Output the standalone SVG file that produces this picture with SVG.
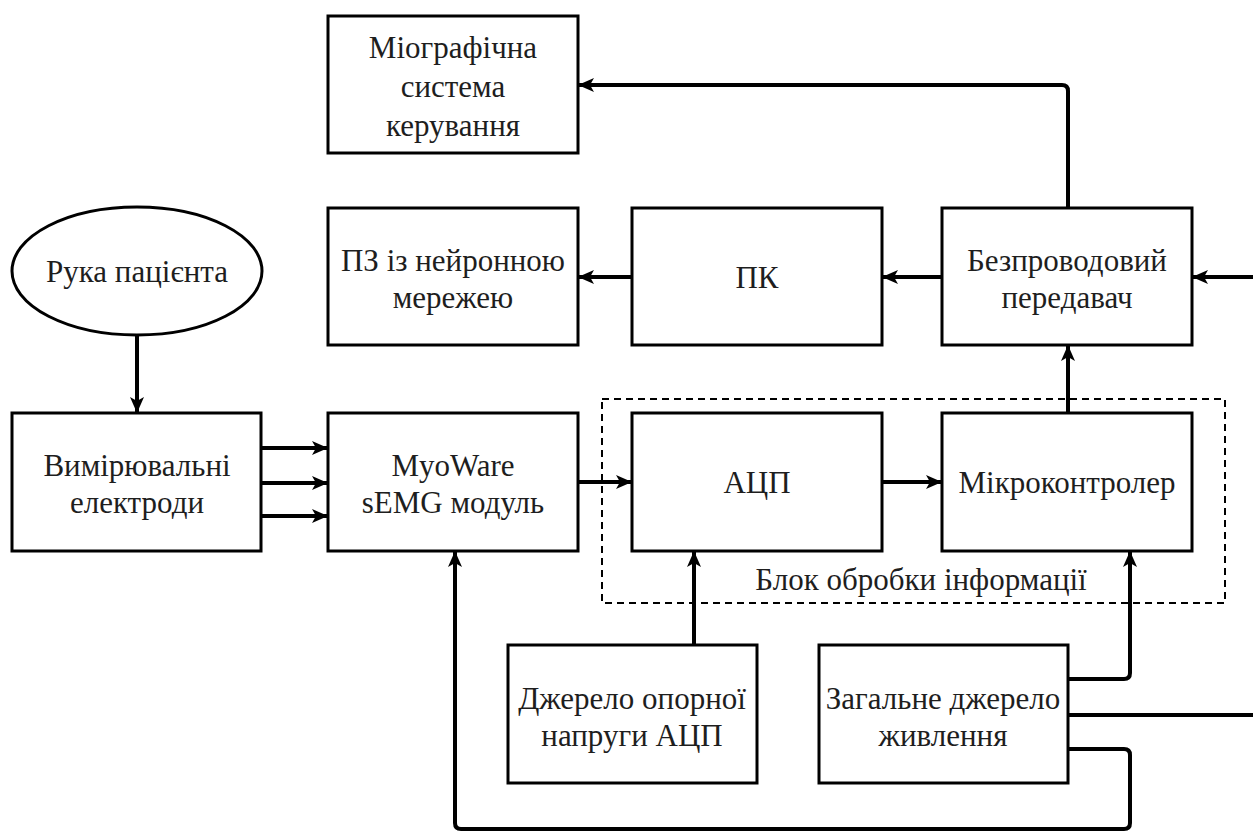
<svg xmlns="http://www.w3.org/2000/svg" width="1253" height="832" viewBox="0 0 1253 832">
  <style>
    .box { fill: #ffffff; stroke: #000000; stroke-width: 3; }
    .lbl { font-family: "Liberation Serif", "Times New Roman", serif; font-size: 31px; fill: #1e1e1e; text-anchor: middle; dominant-baseline: central; }
    .wire { fill: none; stroke: #000000; stroke-width: 4; stroke-linejoin: round; }
    .group { fill: none; stroke: #000000; stroke-width: 2; stroke-dasharray: 7 5; }
  </style>
  <defs>
    <marker id="arr" markerUnits="userSpaceOnUse" markerWidth="16" markerHeight="14" refX="15" refY="7" orient="auto">
      <path d="M0,0 L16,7 L0,14 L4,7 Z" fill="#000000"/>
    </marker>
  </defs>

  <rect width="1253" height="832" fill="#ffffff"/>

  <!-- processing block boundary -->
  <g id="processing-block">
    <rect class="group" x="602" y="399" width="623" height="204"/>
    <text class="lbl" x="921" y="579">Блок обробки інформації</text>
  </g>

  <g id="myo-control">
    <rect class="box" x="328" y="16" width="250" height="137"/>
    <text class="lbl" x="453" y="47">Міографічна</text>
    <text class="lbl" x="453" y="86">система</text>
    <text class="lbl" x="453" y="125">керування</text>
  </g>

  <g id="nn-software">
    <rect class="box" x="328" y="208" width="250" height="137"/>
    <text class="lbl" x="453" y="260">ПЗ із нейронною</text>
    <text class="lbl" x="453" y="297">мережею</text>
  </g>

  <g id="pc">
    <rect class="box" x="632" y="208" width="250" height="137"/>
    <text class="lbl" x="757" y="277">ПК</text>
  </g>

  <g id="transmitter">
    <rect class="box" x="942" y="208" width="250" height="137"/>
    <text class="lbl" x="1067" y="260">Безпроводовий</text>
    <text class="lbl" x="1067" y="297">передавач</text>
  </g>

  <g id="hand">
    <ellipse class="box" cx="137" cy="271" rx="125" ry="64"/>
    <text class="lbl" x="137" y="271">Рука пацієнта</text>
  </g>

  <g id="electrodes">
    <rect class="box" x="12" y="413" width="249" height="138"/>
    <text class="lbl" x="137" y="465">Вимірювальні</text>
    <text class="lbl" x="137" y="502">електроди</text>
  </g>

  <g id="myoware">
    <rect class="box" x="328" y="413" width="250" height="138"/>
    <text class="lbl" x="453" y="465">MyoWare</text>
    <text class="lbl" x="453" y="502">sEMG модуль</text>
  </g>

  <g id="adc">
    <rect class="box" x="632" y="413" width="250" height="138"/>
    <text class="lbl" x="757" y="482">АЦП</text>
  </g>

  <g id="mcu">
    <rect class="box" x="942" y="413" width="250" height="138"/>
    <text class="lbl" x="1067" y="482">Мікроконтролер</text>
  </g>

  <g id="adc-reference">
    <rect class="box" x="508" y="645" width="249" height="138"/>
    <text class="lbl" x="632" y="698">Джерело опорної</text>
    <text class="lbl" x="632" y="735">напруги АЦП</text>
  </g>

  <g id="power-supply">
    <rect class="box" x="819" y="645" width="249" height="138"/>
    <text class="lbl" x="943" y="698">Загальне джерело</text>
    <text class="lbl" x="943" y="735">живлення</text>
  </g>

  <g id="connectors">
    <path class="wire" d="M1068,208 V91 Q1068,85 1062,85 H579" marker-end="url(#arr)"/>
    <path class="wire" d="M1253,277 H1193" marker-end="url(#arr)"/>
    <path class="wire" d="M942,277 H883" marker-end="url(#arr)"/>
    <path class="wire" d="M632,277 H579" marker-end="url(#arr)"/>
    <path class="wire" d="M137,335 V412" marker-end="url(#arr)"/>
    <path class="wire" d="M261,448 H327" marker-end="url(#arr)"/>
    <path class="wire" d="M261,483 H327" marker-end="url(#arr)"/>
    <path class="wire" d="M261,516 H327" marker-end="url(#arr)"/>
    <path class="wire" d="M578,482 H631" marker-end="url(#arr)"/>
    <path class="wire" d="M882,482 H941" marker-end="url(#arr)"/>
    <path class="wire" d="M1068,413 V346" marker-end="url(#arr)"/>
    <path class="wire" d="M694,645 V552" marker-end="url(#arr)"/>
    <path class="wire" d="M1068,679 H1124 Q1130,679 1130,673 V552" marker-end="url(#arr)"/>
    <path class="wire" d="M1068,715 H1253"/>
    <path class="wire" d="M1068,749 H1124 Q1130,749 1130,755 V823 Q1130,829 1124,829 H461 Q455,829 455,823 V552" marker-end="url(#arr)"/>
  </g>
</svg>
